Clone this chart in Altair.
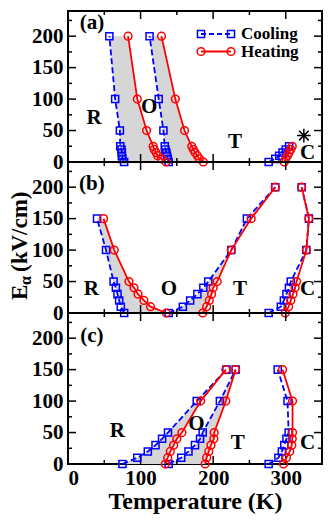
import altair as alt
import pandas as pd

# ---------------- data (T in K, E in kV/cm) ----------------
# panel (a)
a_E = [0, 5, 10, 15, 20, 25, 50, 100, 200]
a_RO_cool = [77.4, 75.0, 74.2, 74.2, 73.7, 72.0, 71.5, 65.0, 57.0]
a_RO_heat = [135.0, 128.7, 123.6, 121.4, 118.7, 117.4, 108.3, 95.5, 82.8]
a_OT_cool = [138.7, 137.4, 136.5, 135.6, 134.2, 133.3, 131.5, 125.0, 112.4]
a_OT_heat = [186.5, 181.0, 178.3, 175.0, 172.8, 170.5, 160.6, 147.9, 128.8]
a_C_E = [0, 5, 10, 15, 20, 25]
a_C_cool = [276.5, 285.6, 291.0, 295.6, 300.0, 304.7]
a_C_heat = [298.0, 300.0, 302.5, 304.7, 307.0, 309.0]
star_T = [325]
star_E = [42]

# panel (b)
b_RO_E = [0, 10, 20, 30, 40, 50, 100, 150]
b_RO_cool = [77.4, 72.8, 70.5, 68.2, 66.0, 62.8, 52.4, 40.0]
b_RO_heat = [135.6, 113.7, 104.6, 96.5, 91.0, 84.0, 63.7, 49.0]
b_E = [0, 10, 20, 30, 40, 50, 100, 150, 200]
b_OT_cool = [138.7, 158.3, 168.3, 178.3, 186.5, 193.3, 225.0, 246.5, 285.6]
b_OT_heat = [185.6, 191.0, 194.7, 197.8, 200.0, 205.6, 225.0, 252.4, 285.6]
b_C_cool = [276.5, 293.3, 297.5, 301.0, 304.5, 307.0, 328.4, 332.0, 322.0]
b_C_heat = [299.3, 304.0, 307.0, 310.0, 313.0, 315.0, 328.4, 332.0, 322.0]

# panel (c)
c_E = [0, 10, 20, 30, 40, 50, 100, 150]
c_RO_cool = [75.0, 95.5, 110.0, 120.6, 129.6, 137.8, 177.4, 218.3]
c_RO_heat = [134.2, 137.4, 141.0, 145.6, 150.0, 157.0, 182.8, 217.5]
c_OT_cool = [138.7, 156.0, 166.0, 175.0, 182.0, 185.6, 209.3, 231.0]
c_OT_heat = [189.0, 191.0, 194.0, 197.0, 201.0, 201.5, 217.5, 231.0]
c_C_cool = [276.5, 290.0, 294.7, 298.0, 301.0, 304.0, 302.5, 289.0]
c_C_heat = [297.0, 301.0, 305.6, 308.4, 309.0, 309.4, 309.4, 295.6]

# phase labels (text, T, E)
lab_a = (["R", "O", "T", "C", "(a)"], [36, 112, 230, 330, 33], [70, 88, 32, 14, 221])
lab_b = (["R", "O", "T", "C", "(b)"], [32, 139, 237, 330, 33], [38, 38, 38, 38, 205])
lab_c = (["R", "O", "T", "C", "(c)"], [68, 177, 234, 330, 33], [52, 64, 33, 34, 203])

y_major = [0, 50, 100, 150, 200]
y_minor = [25, 75, 125, 175, 225]
x_major = [0, 100, 200, 300]
x_minor = [50, 150, 250, 350]

branches = {
    "a": [("RO", a_E, a_RO_cool, a_RO_heat, True),
          ("OT", a_E, a_OT_cool, a_OT_heat, True),
          ("C", a_C_E, a_C_cool, a_C_heat, False)],
    "b": [("RO", b_RO_E, b_RO_cool, b_RO_heat, True),
          ("OT", b_E, b_OT_cool, b_OT_heat, True),
          ("C", b_E, b_C_cool, b_C_heat, False)],
    "c": [("RO", c_E, c_RO_cool, c_RO_heat, True),
          ("OT", c_E, c_OT_cool, c_OT_heat, True),
          ("C", c_E, c_C_cool, c_C_heat, False)],
}
labels = {"a": lab_a, "b": lab_b, "c": lab_c}

# ---------------- styling ----------------
W, H = 254, 151
FONT = "Liberation Serif"
BLUE, RED, GREY = "#0000ff", "#ff0000", "#d6d6d6"
xs = alt.Scale(domain=[0, 350], nice=False, zero=False)
ys = alt.Scale(domain=[0, 240], nice=False, zero=False)

yaxis = alt.Axis(values=y_major, ticks=False, domain=False, grid=False,
                 labelFont=FONT, labelFontSize=21, labelFontWeight="bold",
                 labelColor="black", labelPadding=5, title=None)
xaxis_b = alt.Axis(values=x_major, ticks=False, domain=False, grid=False,
                   labelFont=FONT, labelFontSize=21, labelFontWeight="bold",
                   labelColor="black", labelPadding=3, title="Temperature (K)",
                   titleFont=FONT, titleFontSize=24, titleFontWeight="bold",
                   titleColor="black", titlePadding=1)


def panel(p, bottom):
    xaxis = xaxis_b if bottom else None
    long_rows, wide_rows = [], []
    for name, E, tc, th, shaded in branches[p]:
        for e, c, h in zip(E, tc, th):
            long_rows.append({"branch": name, "E": e, "T": c, "kind": "Cooling"})
            long_rows.append({"branch": name, "E": e, "T": h, "kind": "Heating"})
            if shaded:
                wide_rows.append({"branch": name, "E": e, "Tc": c, "Th": h})
    long = pd.DataFrame(long_rows)
    wide = pd.DataFrame(wide_rows)
    cool = long[long.kind == "Cooling"]
    heat = long[long.kind == "Heating"]

    X = lambda f: alt.X(f, scale=xs, axis=xaxis)
    Y = lambda f: alt.Y(f, scale=ys, axis=yaxis)

    area = alt.Chart(wide).mark_area(orient="horizontal", color=GREY, opacity=1).encode(
        y=Y("E:Q"), x=X("Tc:Q"), x2=alt.X2("Th:Q"), detail="branch:N")

    layers = [area]
    # inward ticks on all four sides
    for vals, ln in ((y_major, 8), (y_minor, 4)):
        d = pd.DataFrame({"v": vals})
        layers.append(alt.Chart(d).mark_rule(color="black", strokeWidth=1.5).encode(
            y=Y("v:Q"), x=alt.value(0), x2=alt.value(ln)))
        layers.append(alt.Chart(d).mark_rule(color="black", strokeWidth=1.5).encode(
            y=Y("v:Q"), x=alt.value(W), x2=alt.value(W - ln)))
    for vals, ln in ((x_major, 8), (x_minor, 4)):
        d = pd.DataFrame({"v": vals})
        layers.append(alt.Chart(d).mark_rule(color="black", strokeWidth=1.5).encode(
            x=X("v:Q"), y=alt.value(H), y2=alt.value(H - ln)))
        layers.append(alt.Chart(d).mark_rule(color="black", strokeWidth=1.5).encode(
            x=X("v:Q"), y=alt.value(0), y2=alt.value(ln)))

    layers += [
        alt.Chart(cool).mark_line(color=BLUE, strokeWidth=1.8, strokeDash=[6, 3]).encode(
            x=X("T:Q"), y=Y("E:Q"), detail="branch:N", order="E:Q"),
        alt.Chart(cool).mark_point(shape="square", filled=False, color=BLUE, size=50,
                                   strokeWidth=1.5, opacity=1).encode(x=X("T:Q"), y=Y("E:Q")),
        alt.Chart(heat).mark_line(color=RED, strokeWidth=1.8).encode(
            x=X("T:Q"), y=Y("E:Q"), detail="branch:N", order="E:Q"),
        alt.Chart(heat).mark_point(shape="circle", filled=False, color=RED, size=60,
                                   strokeWidth=1.5, opacity=1).encode(x=X("T:Q"), y=Y("E:Q")),
    ]

    t, lx, ly = labels[p]
    ldf = pd.DataFrame({"t": t, "T": lx, "E": ly})
    layers.append(alt.Chart(ldf).mark_text(font=FONT, fontSize=21, fontWeight="bold",
                                           color="black", baseline="middle", align="center").encode(
        x=X("T:Q"), y=Y("E:Q"), text="t:N"))

    one = pd.DataFrame({"k": [0]})
    if p == "a":
        sdf = pd.DataFrame({"T": star_T, "E": star_E})
        layers.append(alt.Chart(sdf).mark_point(
            shape="M-1,0L1,0M0,-1L0,1M-0.7,-0.7L0.7,0.7M-0.7,0.7L0.7,-0.7",
            color="black", strokeWidth=1.5, size=190, opacity=1).encode(x=X("T:Q"), y=Y("E:Q")))
        # legend
        for yy, col, shp, dash, name in ((23, BLUE, "square", [5, 3], "Cooling"),
                                         (40.5, RED, "circle", [1, 0], "Heating")):
            layers.append(alt.Chart(one).mark_rule(color=col, strokeWidth=1.8, strokeDash=dash).encode(
                x=alt.value(133), x2=alt.value(163), y=alt.value(yy)))
            for xx in (133, 163):
                layers.append(alt.Chart(one).mark_point(shape=shp, filled=False, color=col,
                                                        size=50 if shp == "square" else 60,
                                                        strokeWidth=1.5, opacity=1).encode(
                    x=alt.value(xx), y=alt.value(yy)))
            layers.append(alt.Chart(one).mark_text(font=FONT, fontSize=17, fontWeight="bold",
                                                   color="black", align="left", baseline="middle").encode(
                x=alt.value(173), y=alt.value(yy), text=alt.value(name)))
    if p == "b":
        # y title with subscript alpha
        layers.append(alt.Chart(one).mark_text(font=FONT, fontSize=23, fontWeight="bold", angle=270,
                                               color="black", align="left", baseline="middle").encode(
            x=alt.value(-48), y=alt.value(138), text=alt.value("E")))
        layers.append(alt.Chart(one).mark_text(font=FONT, fontSize=16, fontWeight="bold", angle=270,
                                               color="black", align="left", baseline="middle").encode(
            x=alt.value(-42), y=alt.value(123), text=alt.value("α")))
        layers.append(alt.Chart(one).mark_text(font=FONT, fontSize=23, fontWeight="bold", angle=270,
                                               color="black", align="left", baseline="middle").encode(
            x=alt.value(-48), y=alt.value(110), text=alt.value("(kV/cm)")))

    return alt.layer(*layers).properties(width=W, height=H)


chart = alt.vconcat(panel("a", False), panel("b", False), panel("c", True),
                    spacing=0, bounds="flush").properties(
    padding={"left": 0, "top": 1, "right": 0, "bottom": 0}
).configure_view(stroke="black", strokeWidth=2)

chart.save("out.html", embed_options={"renderer": "svg", "actions": False})
